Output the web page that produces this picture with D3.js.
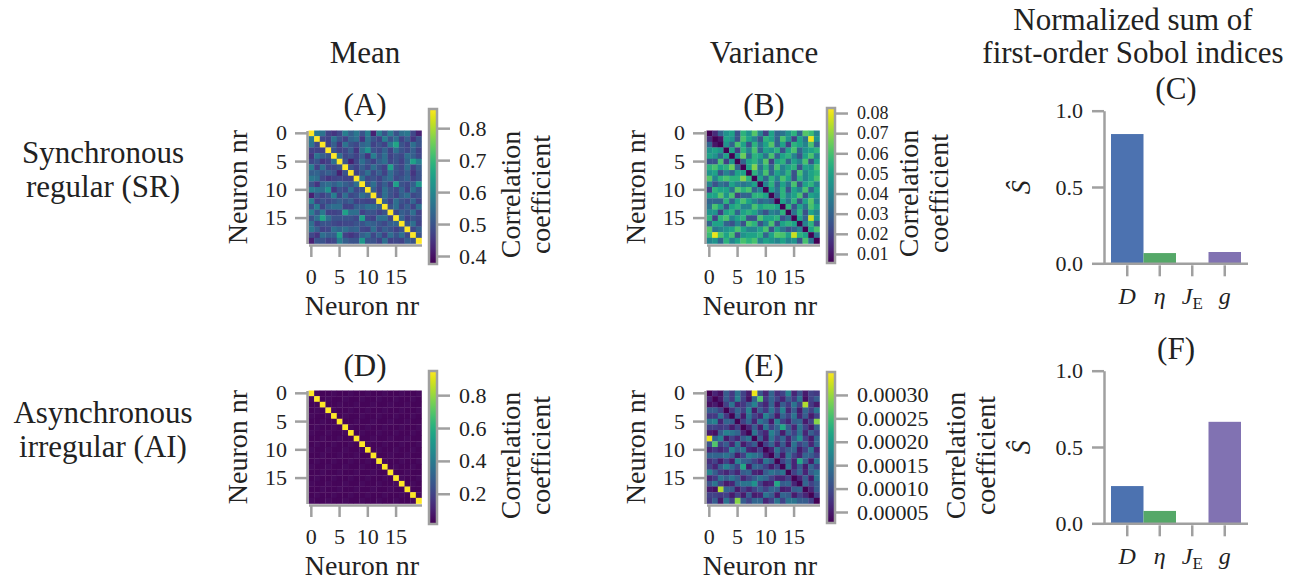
<!DOCTYPE html>
<meta charset="utf-8">
<style>
  svg text { font-family: "Liberation Serif", "DejaVu Serif", "Times New Roman", serif; }
</style>
<body style="margin:0;background:#fff">
<svg id="fig" width="1296" height="583"></svg>
<script src="https://d3js.org/d3.v7.min.js"></script>
<script>

// ---- data ----
// correlation matrices are symmetric: each row holds the upper triangle (j > i)
var nrTicks = [0, 5, 10, 15];

// mean correlation, SR, in hundredths
var meanSR = [
  [57,56,47,45,48,58,52,57,50,58,42,58,50,58,50,55,57,48,42],
  [48,47,56,50,47,53,55,45,56,50,47,58,50,55,47,52,45,50],
  [47,52,45,56,50,48,53,55,47,50,47,57,66,50,47,55,50],
  [50,47,48,52,45,55,62,50,48,53,47,55,50,48,52,47],
  [55,48,50,47,52,45,58,50,55,47,50,48,55,52,48],
  [50,42,48,55,50,47,52,55,48,50,47,53,65,58],
  [50,47,52,48,55,50,47,65,50,48,55,47,52],
  [47,50,55,48,52,47,55,50,48,52,45,50],
  [55,48,50,47,52,55,48,50,53,47,50],
  [50,55,48,52,47,65,50,48,52,63],
  [52,47,55,50,48,53,47,55,50],
  [48,55,50,47,52,55,48,50],
  [52,47,55,50,48,53,47],
  [50,55,48,52,47,55],
  [48,52,50,55,47],
  [53,47,50,48],
  [50,55,47],
  [48,52],
  [50]
];

// variance of correlation, SR, in thousandths
var varSR = [
  [15,30,45,50,25,55,45,62,40,20,50,30,35,45,55,30,62,58,40],
  [10,50,45,25,60,50,40,25,55,50,30,60,45,20,50,35,80,45],
  [45,30,60,50,25,55,35,50,62,30,50,20,55,50,40,60,30],
  [50,20,55,40,60,30,50,45,55,25,50,60,30,45,50,55],
  [45,65,30,55,50,35,60,30,50,55,40,25,50,60,40],
  [30,50,55,40,62,20,50,55,30,50,40,60,25,50],
  [50,68,35,55,30,60,40,50,55,25,50,45,60],
  [55,40,60,30,50,40,55,25,60,40,50,55],
  [50,30,55,40,60,50,25,55,40,50,60],
  [40,55,30,50,35,60,25,50,55,40],
  [50,35,55,25,50,40,60,30,50],
  [30,55,40,50,60,25,50,45],
  [50,35,55,25,50,62,40],
  [55,25,50,35,60,50],
  [35,55,25,50,40],
  [50,30,76,45],
  [40,55,25],
  [50,60],
  [35]
];

// mean correlation, AI, in hundredths
var meanAI = [
  [4,3,3,4,3,3,4,3,3,4,3,3,4,3,3,4,3,3,4],
  [3,4,3,3,4,3,3,4,3,3,4,3,3,4,3,3,4,3],
  [3,3,4,3,3,4,3,3,4,3,3,4,3,3,4,3,3],
  [4,3,3,4,3,3,4,3,3,4,3,3,4,3,3,4],
  [3,4,3,3,4,3,3,4,3,3,4,3,3,4,3],
  [3,3,4,3,3,4,3,3,4,3,3,4,3,3],
  [4,3,3,4,3,3,4,3,3,4,3,3,4],
  [3,4,3,3,4,3,3,4,3,3,4,3],
  [3,3,4,3,3,4,3,3,4,3,3],
  [4,3,3,4,3,3,4,3,3,4],
  [3,4,3,3,4,3,3,4,3],
  [3,3,4,3,3,4,3,3],
  [4,3,3,4,3,3,4],
  [3,4,3,3,4,3],
  [3,3,4,3,3],
  [4,3,3,4],
  [3,4,3],
  [3,3],
  [4]
];

// variance of correlation, AI, in units of 1e-5
var varAI = [
  [6,4,12,8,15,9,5,34,11,6,13,7,9,17,6,11,5,9,8],
  [5,12,8,17,9,4,13,26,8,13,9,6,12,8,15,4,9,12],
  [9,15,6,8,12,17,9,6,13,5,12,8,15,9,31,8,5],
  [8,13,9,17,5,12,8,15,9,17,6,12,5,13,9,15],
  [12,5,15,9,6,17,12,5,13,9,15,6,12,5,9],
  [9,13,6,15,12,5,17,9,6,12,13,5,9,29],
  [6,12,5,15,9,13,22,12,6,15,9,5,12],
  [15,9,6,17,12,5,13,9,15,6,12,9],
  [12,5,15,9,13,6,12,19,9,5,13],
  [9,13,6,12,5,15,9,12,6,13],
  [6,15,9,12,13,5,9,15,6],
  [12,5,15,9,6,13,12,9],
  [9,13,6,22,12,5,15],
  [15,6,12,5,13,9],
  [9,13,6,12,15],
  [6,12,5,15],
  [13,9,12],
  [6,12],
  [9]
];

var cbTicksMeanSR = [0.4, 0.5, 0.6, 0.7, 0.8];
var cbTicksVarSR = [0.01, 0.02, 0.03, 0.04, 0.05, 0.06, 0.07, 0.08];
var cbTicksMeanAI = [0.2, 0.4, 0.6, 0.8];
var cbTicksVarAI = [0.00005, 0.0001, 0.00015, 0.0002, 0.00025, 0.0003];

var params = ["D", "η", "J", "g"];
var sobolSR = [0.847, 0.067, 0.0, 0.074];
var sobolAI = [0.244, 0.081, 0.0, 0.665];
var barColors = ["#4C72B0", "#55A868", "#C44E52", "#8172B2"];

// ---- drawing ----
var svg = d3.select("#fig");
var GREY = "#a0a0a0";
var N = 20, SIZE = 113;

function fullMatrix(upper, diag, unit) {
  var m = d3.range(N).map(function() { return new Array(N); });
  for (var i = 0; i < N; i++) {
    m[i][i] = diag;
    for (var j = i + 1; j < N; j++) {
      m[i][j] = m[j][i] = upper[i][j - i - 1] * unit;
    }
  }
  return m;
}

function styleAxis(g, fs) {
  g.attr("font-family", null).attr("font-size", fs);
  g.select(".domain").attr("stroke", GREY).attr("stroke-width", 2.5);
  g.selectAll(".tick line").attr("stroke", GREY).attr("stroke-width", 2.5);
  g.selectAll(".tick text").attr("fill", "#222");
}

function label(x, y, txt, size, rot) {
  return svg.append("text")
    .attr("transform", "translate(" + x + "," + y + ")" + (rot ? " rotate(" + rot + ")" : ""))
    .attr("text-anchor", "middle")
    .attr("font-size", size)
    .attr("fill", "#222")
    .text(txt);
}

function heatmap(cfg) {
  var m = fullMatrix(cfg.upper, cfg.diag, cfg.unit);
  var x = d3.scaleBand().domain(d3.range(N)).range([cfg.x, cfg.x + SIZE]);
  var y = d3.scaleBand().domain(d3.range(N)).range([cfg.y, cfg.y + SIZE]);
  var color = d3.scaleSequential(d3.interpolateViridis).domain(cfg.dom).clamp(true);
  var cells = [];
  m.forEach(function(row, i) { row.forEach(function(v, j) { cells.push({i: i, j: j, v: v}); }); });

  svg.append("g").selectAll("rect")
    .data(cells)
    .enter()
    .append("rect")
      .attr("x", function(d) { return x(d.j); })
      .attr("y", function(d) { return y(d.i); })
      .attr("width", x.bandwidth() + 0.3)
      .attr("height", y.bandwidth() + 0.3)
      .attr("fill", function(d) { return color(d.v); });

  var ay = svg.append("g")
    .attr("transform", "translate(" + (cfg.x - 1.5) + ",0)")
    .call(d3.axisLeft(y).tickValues(nrTicks).tickSize(12).tickSizeOuter(0).tickPadding(8));
  styleAxis(ay, 22);
  var ax = svg.append("g")
    .attr("transform", "translate(0," + (cfg.y + SIZE + 1.5) + ")")
    .call(d3.axisBottom(x).tickValues(nrTicks).tickSize(12).tickSizeOuter(0).tickPadding(11));
  styleAxis(ax, 22);

  label(cfg.x + SIZE / 2 - 3, cfg.y + SIZE + 71, "Neuron nr", 28);
  label(cfg.x - 62, cfg.y + SIZE / 2, "Neuron nr", 28, -90);

  // colorbar
  var cb = cfg.cb;
  var cy = d3.scaleLinear().domain(cfg.dom).range([cb.y1, cb.y0]);
  var gid = "grad" + cfg.id;
  var grad = svg.append("defs").append("linearGradient")
    .attr("id", gid).attr("x1", 0).attr("y1", 1).attr("x2", 0).attr("y2", 0);
  d3.range(0, 1.0001, 0.05).forEach(function(t) {
    grad.append("stop").attr("offset", t).attr("stop-color", d3.interpolateViridis(t));
  });
  svg.append("rect")
    .attr("x", cb.x).attr("y", cb.y0).attr("width", 8).attr("height", cb.y1 - cb.y0)
    .attr("fill", "url(#" + gid + ")")
    .attr("stroke", GREY).attr("stroke-width", 2.5);
  var ac = svg.append("g")
    .attr("transform", "translate(" + (cb.x + 9) + ",0)")
    .call(d3.axisRight(cy).tickValues(cfg.cbTicks).tickFormat(d3.format(cfg.fmt)).tickSize(12).tickPadding(9));
  ac.select(".domain").remove();
  styleAxis(ac, cfg.cbFs || 22);

  label(cb.lx, (cb.y0 + cb.y1) / 2 + 8, "Correlation", 28, -90);
  label(cb.lx + 30, (cb.y0 + cb.y1) / 2 + 8, "coefficient", 28, -90);
}

heatmap({id: "A", x: 308.5, y: 130.5, upper: meanSR, diag: 1, unit: 0.01, dom: [0.375, 0.86],
  cbTicks: cbTicksMeanSR, fmt: ".1f", cb: {x: 429, y0: 109, y1: 264, lx: 520}});
heatmap({id: "B", x: 706.5, y: 130.5, upper: varSR, diag: 0, unit: 0.001, dom: [0.0055, 0.0825],
  cbTicks: cbTicksVarSR, fmt: ".2f", cbFs: 18, cb: {x: 827, y0: 108, y1: 263, lx: 918}});
heatmap({id: "D", x: 308.5, y: 390.5, upper: meanAI, diag: 1, unit: 0.01, dom: [0.016, 0.947],
  cbTicks: cbTicksMeanAI, fmt: ".1f", cb: {x: 429, y0: 371, y1: 524, lx: 520}});
heatmap({id: "E", x: 706.5, y: 390.5, upper: varAI, diag: 0, unit: 0.00001, dom: [0.0000265, 0.000349],
  cbTicks: cbTicksVarAI, fmt: ".5f", cb: {x: 827, y0: 372, y1: 523, lx: 965}});

function bars(cfg) {
  var x = d3.scaleBand().domain(params).range([1111, 1241]);
  var y = d3.scaleLinear().domain([0, 1]).range([cfg.y0, cfg.y0 - 152.6]);
  svg.append("g").selectAll("rect")
    .data(cfg.values)
    .enter()
    .append("rect")
      .attr("x", function(d, i) { return x(params[i]); })
      .attr("y", function(d) { return y(d); })
      .attr("width", x.bandwidth())
      .attr("height", function(d) { return y(0) - y(d); })
      .attr("fill", function(d, i) { return barColors[i]; });

  var ay = svg.append("g")
    .attr("transform", "translate(1104,0)")
    .call(d3.axisLeft(y).tickValues([0, 0.5, 1]).tickFormat(d3.format(".1f")).tickSize(12).tickSizeOuter(0).tickPadding(9));
  styleAxis(ay, 22);
  svg.append("line")
    .attr("x1", 1104).attr("x2", 1248).attr("y1", cfg.y0 + 0.5).attr("y2", cfg.y0 + 0.5)
    .attr("stroke", GREY).attr("stroke-width", 2.5);
  var ax = svg.append("g")
    .attr("transform", "translate(0," + (cfg.y0 + 2) + ")")
    .call(d3.axisBottom(x).tickSize(11).tickSizeOuter(0).tickPadding(11));
  ax.select(".domain").remove();
  styleAxis(ax, 24);
  ax.selectAll(".tick text").attr("font-style", "italic").each(function(d) {
    if (d === "J") {
      d3.select(this).text("J").append("tspan")
        .attr("font-style", "normal").attr("font-size", 17).attr("dy", "0.25em").text("E");
    }
  });

  svg.append("text")
    .attr("transform", "translate(1030," + (cfg.y0 - 76) + ") rotate(-90)")
    .attr("text-anchor", "middle")
    .attr("font-size", 28).attr("font-style", "italic")
    .attr("fill", "#222")
    .text("Ŝ");
}

bars({y0: 263.3, values: sobolSR});
bars({y0: 523.3, values: sobolAI});

// titles and row labels
label(365, 63, "Mean", 31);
label(764, 63, "Variance", 31);
label(1133, 30, "Normalized sum of", 31);
label(1133, 63, "first-order Sobol indices", 31);
label(365, 115, "(A)", 31);
label(764, 115, "(B)", 31);
label(1176, 99, "(C)", 31);
label(365, 376, "(D)", 31);
label(764, 376, "(E)", 31);
label(1176, 359, "(F)", 31);
label(103, 163, "Synchronous", 31);
label(103, 197, "regular (SR)", 31);
label(103, 423, "Asynchronous", 31);
label(103, 457, "irregular (AI)", 31);

</script>
